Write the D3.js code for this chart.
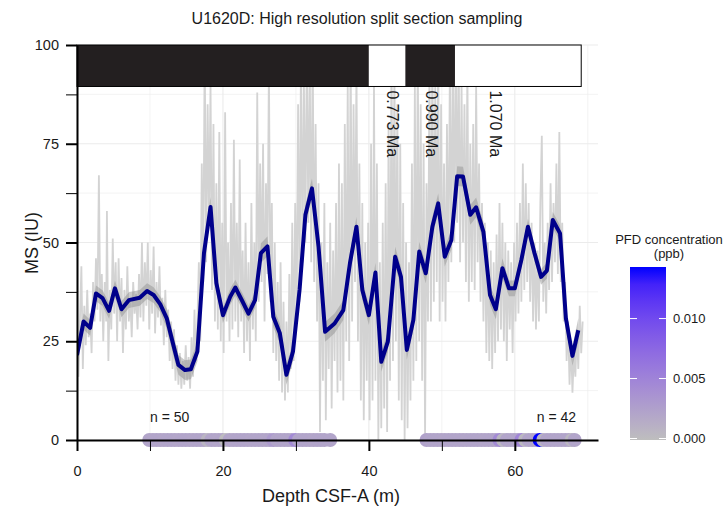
<!DOCTYPE html>
<html>
<head>
<meta charset="utf-8">
<script src="https://cdn.jsdelivr.net/npm/d3@7"></script>
<style>
  body { margin: 0; background: #fff; }
  text { font-family: "Liberation Sans", Arial, sans-serif; fill: #1a1a1a; }
  .grid line { stroke: #ebebeb; }
</style>
</head>
<body>
<div id="chart"></div>
<script>
// raw MS measurements (depth m, MS IU)
const rawMS = [
  [0.0,20],[0.2,16],[0.4,30],[0.6,44],[0.8,18],[1.0,34],[1.2,24],[1.4,38],[1.6,26],[1.8,32],[2.0,22],
  [2.2,40],[2.4,30],[2.6,46],[2.8,33],[3.0,67],[3.2,30],[3.4,42],[3.6,25],[3.8,40],[4.0,30],[4.1,58],[4.3,20],[4.5,38],[4.7,28],[4.9,51],[5.1,32],[5.3,45],[5.5,25],
  [5.7,46],[5.9,30],[6.1,41],[6.3,22],[6.5,38],[6.7,28],[6.9,44],[7.1,30],[7.3,36],[7.5,26],[7.7,40],[7.9,32],[8.1,37],[8.3,28],[8.5,42],[8.7,31],
  [8.9,50],[9.1,30],[9.3,45],[9.5,34],[9.7,50],[9.9,28],[10.1,43],[10.3,32],[10.5,49],[10.7,27],[10.9,40],[11.1,31],[11.3,44],[11.5,29],[11.7,36],[11.9,24],[12.1,38],[12.3,26],[12.5,33],
  [12.7,20],[12.9,30],[13.1,18],[13.3,28],[13.5,15],[13.7,24],[13.9,14],[14.1,22],[14.3,13],[14.5,20],[14.7,14],[14.9,24],[15.1,15],[15.3,21],[15.5,13],[15.7,26],[15.9,16],[16.1,33],[16.3,20],[16.5,30],
  [16.7,45],[16.9,25],[17.1,70],[17.3,40],[17.5,100],[17.7,45],[17.9,85],[18.1,55],[18.3,90],[18.5,38],[18.7,80],[18.9,30],[19.1,65],[19.3,28],[19.5,78],[19.7,25],[19.9,55],[20.1,22],
  [20.3,83],[20.5,30],[20.7,50],[20.9,25],[21.1,60],[21.3,28],[21.5,76],[21.7,30],[21.9,55],[22.1,26],[22.3,71],[22.5,30],[22.7,48],[22.9,22],[23.1,55],[23.3,25],[23.5,45],[23.7,20],[23.9,60],[24.1,28],[24.3,50],[24.5,25],
  [24.7,88],[24.9,35],[25.1,70],[25.3,40],[25.5,75],[25.7,30],[25.9,65],[26.1,42],[26.3,95],[26.5,35],[26.7,60],[26.9,22],
  [27.1,50],[27.3,20],[27.5,40],[27.7,15],[27.9,45],[28.1,12],[28.3,35],[28.5,10],[28.7,30],[28.9,12],[29.1,42],[29.3,18],[29.5,55],[29.7,20],[29.9,60],
  [30.1,30],[30.3,85],[30.5,35],[30.7,100],[30.9,45],[31.1,90],[31.3,50],[31.5,100],[31.7,55],[31.9,95],[32.1,45],[32.3,100],[32.5,40],[32.7,80],[32.9,30],
  [33.1,65],[33.3,2],[33.5,50],[33.7,15],[33.9,60],[34.1,5],[34.3,45],[34.5,18],[34.7,55],[34.9,8],[35.1,48],[35.3,20],[35.5,60],[35.7,12],
  [35.9,70],[36.1,15],[36.3,65],[36.5,10],[36.7,80],[36.9,25],[37.1,90],[37.3,20],[37.5,100],[37.7,30],[37.9,85],[38.1,40],[38.3,95],[38.5,25],[38.7,70],[38.9,10],[39.1,60],[39.3,5],[39.5,50],[39.7,15],[39.9,55],
  [40.1,5],[40.3,75],[40.5,10],[40.7,90],[40.9,15],[41.1,70],[41.3,0],[41.5,45],[41.7,3],[41.9,55],[42.1,8],[42.3,65],[42.5,2],[42.7,80],[42.9,15],[43.1,100],[43.3,20],[43.5,95],[43.7,25],[43.9,85],[44.1,10],[44.3,75],[44.5,5],[44.7,60],[44.9,0],[45.1,50],[45.3,3],[45.5,45],
  [45.7,10],[45.9,70],[46.1,15],[46.3,90],[46.5,20],[46.7,100],[46.9,25],[47.1,85],[47.3,15],[47.5,75],[47.7,0],[47.9,65],
  [48.1,30],[48.3,95],[48.5,30],[48.7,100],[48.9,35],[49.1,90],[49.3,40],[49.5,100],[49.7,30],[49.9,85],[50.1,35],[50.3,70],[50.5,30],[50.7,80],[50.9,40],[51.1,95],
  [51.3,45],[51.5,100],[51.7,50],[51.9,100],[52.1,55],[52.3,100],[52.5,45],[52.7,90],[52.9,50],[53.1,85],[53.3,40],[53.5,95],[53.7,35],[53.9,75],[54.1,40],[54.3,80],[54.5,38],[54.7,90],
  [54.9,45],[55.1,70],[55.3,35],[55.5,60],[55.7,30],[55.9,55],[56.1,22],[56.3,50],[56.5,20],[56.7,48],[56.9,18],[57.1,45],[57.3,22],[57.5,52],[57.7,25],
  [57.9,60],[58.1,28],[58.3,55],[58.5,25],[58.7,50],[58.9,20],[59.1,48],[59.3,28],[59.5,45],[59.7,22],[59.9,50],[60.1,30],[60.3,55],[60.5,32],[60.7,60],
  [60.9,35],[61.1,70],[61.3,38],[61.5,65],[61.7,40],[61.9,60],[62.1,35],[62.3,55],[62.5,30],[62.7,50],[62.9,28],[63.1,48],[63.3,30],[63.5,60],[63.7,77],[63.9,35],[64.1,50],[64.3,32],[64.5,55],[64.7,38],[64.9,65],[65.1,40],[65.3,60],[65.5,45],[65.7,70],[65.9,42],[66.1,78],[66.3,40],[66.5,55],
  [66.7,30],[66.9,40],[67.1,20],[67.3,30],[67.5,14],[67.7,25],[67.9,12],[68.1,22],[68.3,16],[68.5,28],[68.7,18],[68.9,34],[69.1,22],[69.3,30]
];

// smoothed MS (depth, MS, band half width)
const smoothMS = [
  [0.0,21.5,2.5],[0.9,30,2],[1.8,28.4,2],[2.6,37.1,2],[3.5,35.9,2],[4.4,32.7,2],[5.2,38.4,2],[6.1,33.1,2],[7.1,35.4,2],[8.6,36,2],
  [9.6,37.7,2],[10.5,36.7,2],[11.4,34.4,2],[12.3,30.8,2.5],[13.1,24.8,2.5],[13.9,19,2.5],[14.8,17.7,2.5],[15.6,17.9,2.5],[16.5,22.4,2.5],
  [17.4,47.3,2.5],[18.3,59,2.5],[19.1,39.7,2.5],[20.0,31.6,2],[21.0,36.3,2],[21.7,38.6,2],[22.7,35,2],[23.5,32,2],[24.4,35.4,2],
  [25.2,47.3,2.5],[26.1,49,2.5],[26.9,31.2,2.5],[27.8,27,2.5],[28.7,16.5,2.5],[29.6,22.4,2.5],[30.5,38,2.5],[31.3,57,2.5],[32.2,63.7,2.5],
  [33.1,49,2.5],[34.0,27.4,2.5],[35.3,29.5,2.5],[36.5,32.9,2.5],[37.4,44.7,2.5],[38.3,54,2.5],[39.1,38,2.5],[40.0,31.6,2.5],[40.9,42.4,2.5],
  [41.7,19.8,2.5],[42.6,24.9,2.5],[43.6,46.4,2.5],[44.4,41.3,2.5],[45.2,22.8,2.5],[46.1,30.4,2.5],[46.9,47.7,2.5],[47.8,42.2,2.5],[48.7,54,2.5],
  [49.5,59.9,2.5],[50.4,46.4,2.5],[51.3,50.6,2.5],[52.1,66.8,2.5],[52.9,66.7,2.5],[53.9,57,2.5],[54.7,58.9,2.5],[55.7,52.7,2.5],[56.6,36.7,2.5],
  [57.4,33.1,2.5],[58.3,43.5,2.5],[59.2,38.4,2],[60.0,38.4,2],[60.9,45.6,2],[61.8,54,2],[62.7,47.3,2],[63.6,41.3,2],[64.4,42.9,2],
  [65.2,55.7,2],[66.2,52.3,2],[67.0,30.8,2.5],[67.9,21.3,2.5],[68.7,27.8,3]
];

// PFD samples (depth m, concentration ppb)
const pfdDepth = [
  9.9,10.4,10.9,11.4,11.9,12.4,12.9,13.4,13.9,14.4,14.9,15.4,15.9,16.4,16.9,17.4,17.9,18.4,18.9,19.4,
  19.9,20.4,20.9,21.4,21.9,22.4,22.9,23.4,23.9,24.4,24.9,25.4,25.9,26.4,26.9,27.4,27.9,28.4,28.9,29.4,
  29.9,30.4,30.9,31.4,31.9,32.4,32.9,33.4,33.9,34.7,
  47.9,48.4,48.9,49.4,49.9,50.4,50.9,51.4,51.9,52.4,52.9,53.4,53.9,54.4,54.9,55.4,55.9,56.4,56.9,57.4,
  57.9,58.4,58.9,59.4,59.9,60.4,60.9,61.4,61.9,62.4,62.9,63.4,63.9,64.4,64.9,65.4,65.9,66.4,66.9,67.4,
  67.8,68.2
];
const pfdConc = [
  0.0022,0.0021,0.0022,0.0022,0.0021,0.0022,0.0022,0.0022,0.0021,0.0022,0.0022,0.0022,0.0021,0.0022,0.0022,0.0022,0.0008,0.0022,0.0022,0.0021,
  0.0022,0.0002,0.0022,0.0021,0.0022,0.0022,0.0022,0.0022,0.0021,0.0022,0.0022,0.0022,0.0021,0.0022,0.0030,0.0022,0.0022,0.0022,0.0022,0.0022,
  0.0045,0.0022,0.0022,0.0022,0.0022,0.0021,0.0022,0.0022,0.0022,0.0022,
  0.0024,0.0022,0.0022,0.0022,0.0022,0.0021,0.0022,0.0022,0.0022,0.0022,0.0022,0.0021,0.0022,0.0022,0.0022,0.0022,0.0021,0.0022,0.0022,0.0022,
  0.0045,0.0005,0.0022,0.0022,0.0022,0.0022,0.0050,0.0005,0.0022,0.0022,0.0022,0.0143,0.0008,0.0022,0.0022,0.0022,0.0022,0.0022,0.0022,0.0022,
  0.0005,0.0022
];
const nLabels = [{depth: 12.7, text: "n = 50"}, {depth: 65.7, text: "n = 42"}];

// polarity (depth from, depth to, normal?)
const polarity = [[0, 40, true], [40, 45, false], [45, 51.8, true], [51.8, 69.1, false]];
const ageLabels = [{depth: 43.3, text: "0.773 Ma"}, {depth: 48.6, text: "0.990 Ma"}, {depth: 57.3, text: "1.070 Ma"}];

const xMajor = [0, 20, 40, 60], xMinor = [10, 30, 50];
const yMajor = [0, 25, 50, 75, 100], yMinor = [12.5, 37.5, 62.5, 87.5];
const legendTicks = [0, 0.005, 0.010];

const W = 725, H = 506;
const P = {left: 77, right: 598, top: 45, bottom: 440};

const svg = d3.select("#chart").append("svg").attr("width", W).attr("height", H);

const x = d3.scaleLinear().domain([0, 71.4]).range([P.left, P.right]);
const y = d3.scaleLinear().domain([0, 100]).range([P.bottom, P.top]);
const color = d3.scaleLinear().domain([0, 0.0143]).range(["#bebebe", "#0000ff"]).interpolate(d3.interpolateLab);

svg.append("defs").append("clipPath").attr("id", "panel")
   .append("rect").attr("x", P.left).attr("y", P.top).attr("width", P.right - P.left).attr("height", P.bottom - P.top);

// grid
const grid = svg.append("g").attr("class", "grid");
grid.selectAll(".vx").data(xMajor.concat(xMinor, [70])).enter().append("line")
    .attr("x1", d => x(d)).attr("x2", d => x(d)).attr("y1", P.top).attr("y2", P.bottom)
    .attr("stroke-width", d => xMajor.includes(d) ? 1.1 : 0.6);
grid.selectAll(".hy").data(yMajor.concat(yMinor)).enter().append("line")
    .attr("x1", P.left).attr("x2", P.right).attr("y1", d => y(d)).attr("y2", d => y(d))
    .attr("stroke-width", d => yMajor.includes(d) ? 1.1 : 0.6);

const panel = svg.append("g").attr("clip-path", "url(#panel)");

// raw data
panel.append("path").datum(rawMS)
     .attr("fill", "none").attr("stroke", "#d3d3d3").attr("stroke-width", 1.8)
     .attr("d", d3.line().x(d => x(d[0])).y(d => y(d[1])));

// smooth band + line
panel.append("path").datum(smoothMS)
     .attr("fill", "#8c8c8c").attr("fill-opacity", 0.45)
     .attr("d", d3.area().x(d => x(d[0])).y0(d => y(d[1] - d[2])).y1(d => y(d[1] + d[2])));
panel.append("path").datum(smoothMS)
     .attr("fill", "none").attr("stroke", "#00008b").attr("stroke-width", 4).attr("stroke-linejoin", "round")
     .attr("d", d3.line().x(d => x(d[0])).y(d => y(d[1])));

// polarity bar
svg.append("g").selectAll("rect").data(polarity).enter().append("rect")
   .attr("x", d => x(d[0])).attr("width", d => x(d[1]) - x(d[0]))
   .attr("y", y(100)).attr("height", y(89.5) - y(100))
   .attr("fill", d => d[2] ? "#231f20" : "#ffffff");
svg.append("rect")
   .attr("x", x(0)).attr("width", x(69.1) - x(0)).attr("y", y(100)).attr("height", y(89.5) - y(100))
   .attr("fill", "none").attr("stroke", "#000").attr("stroke-width", 1);

svg.append("g").selectAll("text").data(ageLabels).enter().append("text")
   .attr("transform", d => `translate(${x(d.depth)},${y(89.5) + 4}) rotate(90)`)
   .attr("dy", "0.35em").attr("font-size", 16).text(d => d.text);

// points
const pts = pfdDepth.map((d, i) => ({depth: d, conc: pfdConc[i]}));
svg.append("g").selectAll("circle").data(pts).enter().append("circle")
   .attr("cx", d => x(d.depth)).attr("cy", y(0)).attr("r", 7)
   .attr("fill", d => color(d.conc));

svg.append("g").selectAll("text").data(nLabels).enter().append("text")
   .attr("x", d => x(d.depth)).attr("y", 422).attr("text-anchor", "middle")
   .attr("font-size", 14).text(d => d.text);

// axes
const xAxis = svg.append("g").attr("transform", `translate(0,${P.bottom})`)
   .call(d3.axisBottom(x).tickValues(xMajor).tickSize(11).tickPadding(15).tickSizeOuter(0));
const xAxisMinor = svg.append("g").attr("transform", `translate(0,${P.bottom})`)
   .call(d3.axisBottom(x).tickValues(xMinor).tickSize(11).tickFormat("").tickSizeOuter(0));
const yAxis = svg.append("g").attr("transform", `translate(${P.left},0)`)
   .call(d3.axisLeft(y).tickValues(yMajor).tickSize(11).tickPadding(7).tickSizeOuter(0));
const yAxisMinor = svg.append("g").attr("transform", `translate(${P.left},0)`)
   .call(d3.axisLeft(y).tickValues(yMinor).tickSize(11).tickFormat("").tickSizeOuter(0));

[xAxis, yAxis].forEach(a => {
  a.select(".domain").attr("stroke", "#000").attr("stroke-width", 2);
  a.selectAll(".tick line").attr("stroke", "#000").attr("stroke-width", 2);
  a.selectAll(".tick text").attr("font-size", 14.5).attr("fill", "#1a1a1a")
   .attr("font-family", '"Liberation Sans", Arial, sans-serif');
});
[xAxisMinor, yAxisMinor].forEach(a => {
  a.select(".domain").remove();
  a.selectAll(".tick line").attr("stroke", "#000").attr("stroke-width", 1);
});

// titles
svg.append("text").attr("x", 357).attr("y", 24).attr("text-anchor", "middle").attr("font-size", 16)
   .text("U1620D: High resolution split section sampling");
svg.append("text").attr("x", 331).attr("y", 502).attr("text-anchor", "middle").attr("font-size", 18)
   .text("Depth CSF-A (m)");
svg.append("text").attr("transform", "translate(38,243) rotate(-90)").attr("text-anchor", "middle").attr("font-size", 18)
   .text("MS (IU)");

// legend colorbar
const lg = {x: 630, w: 36, top: 267, bottom: 440};
const ly = d3.scaleLinear().domain([0, 0.0143]).range([438.5, lg.top]);
const grad = svg.select("defs").append("linearGradient").attr("id", "pfdGrad")
   .attr("x1", 0).attr("x2", 0).attr("y1", 1).attr("y2", 0);
d3.range(0, 1.0001, 0.1).forEach(t => {
  grad.append("stop").attr("offset", t).attr("stop-color", color(t * 0.0143));
});
svg.append("rect").attr("x", lg.x).attr("y", lg.top).attr("width", lg.w).attr("height", lg.bottom - lg.top)
   .attr("fill", "url(#pfdGrad)");
const lt = svg.append("g");
lt.selectAll(".l").data(legendTicks).enter().append("line")
  .attr("x1", lg.x).attr("x2", lg.x + 7).attr("y1", d => ly(d)).attr("y2", d => ly(d))
  .attr("stroke", "#fff").attr("stroke-width", 1);
lt.selectAll(".r").data(legendTicks).enter().append("line")
  .attr("x1", lg.x + lg.w - 7).attr("x2", lg.x + lg.w).attr("y1", d => ly(d)).attr("y2", d => ly(d))
  .attr("stroke", "#fff").attr("stroke-width", 1);
lt.selectAll("text").data(legendTicks).enter().append("text")
  .attr("x", 673).attr("y", d => ly(d)).attr("dy", "0.35em").attr("font-size", 13)
  .text(d => d3.format(".3f")(d));
svg.append("text").attr("x", 669).attr("y", 244).attr("text-anchor", "middle").attr("font-size", 13)
   .text("PFD concentration");
svg.append("text").attr("x", 669).attr("y", 258).attr("text-anchor", "middle").attr("font-size", 13)
   .text("(ppb)");
</script>
</body>
</html>
